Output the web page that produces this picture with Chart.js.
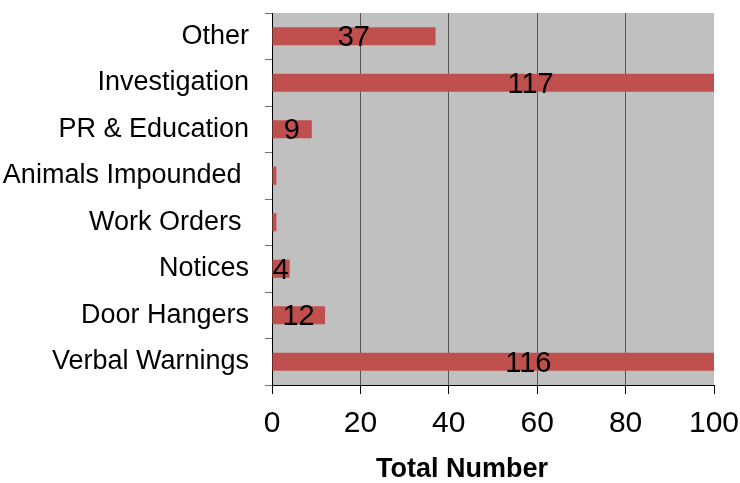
<!DOCTYPE html>
<html>
<head>
<meta charset="utf-8">
<script src="https://cdn.jsdelivr.net/npm/chart.js@4"></script>
<style>
  html, body { margin: 0; padding: 0; background: #fff; overflow: hidden; }
  #wrap { width: 740px; height: 483px; position: relative; }
</style>
</head>
<body>
<div id="wrap"><canvas id="c"></canvas></div>
<script>
// categories, top to bottom (trailing spaces as in the original labels)
const categories = [
    "Other",
    "Investigation",
    "PR & Education",
    "Animals Impounded ",
    "Work Orders ",
    "Notices",
    "Door Hangers",
    "Verbal Warnings"
];
const totals = [37, 117, 9, 1, 1, 4, 12, 116];
const xTicks = [0, 20, 40, 60, 80, 100];
const axisTitle = "Total Number";

const FONT = "'Liberation Sans', Arial, sans-serif";

// grey plot background
const plotBg = {
    id: 'plotBg',
    beforeDraw(chart){
        const a = chart.chartArea, ctx = chart.ctx;
        ctx.save();
        ctx.fillStyle = '#C0C0C0';
        ctx.fillRect(a.left, a.top, a.right - a.left, a.bottom - a.top);
        ctx.restore();
    }
};

// value labels, centred on the full (unclipped) bar
const valueLabels = {
    id: 'valueLabels',
    afterDatasetsDraw(chart){
        const ctx = chart.ctx, xs = chart.scales.x;
        const meta = chart.getDatasetMeta(0);
        ctx.save();
        ctx.font = '29px ' + FONT;
        ctx.fillStyle = '#000';
        ctx.textAlign = 'center';
        ctx.textBaseline = 'middle';
        meta.data.forEach(function(bar, i){
            var v = totals[i];
            if(v < 2) return; // original shows no label on the tiny bars
            ctx.fillText(String(v), xs.getPixelForValue(v / 2), bar.y + 2);
        });
        ctx.restore();
    }
};

// axis title, placed a bit left of centre like the original
const xTitle = {
    id: 'xTitle',
    afterDraw(chart){
        const a = chart.chartArea, ctx = chart.ctx;
        ctx.save();
        ctx.font = 'bold 27px ' + FONT;
        ctx.fillStyle = '#000';
        ctx.textAlign = 'center';
        ctx.textBaseline = 'middle';
        ctx.fillText(axisTitle, a.left + (a.right - a.left) * 0.43, 470);
        ctx.restore();
    }
};

new Chart(document.getElementById('c'), {
    type: 'bar',
    data: {
        labels: categories,
        datasets: [{
            data: totals,
            backgroundColor: '#C0504D',
            borderWidth: 0,
            barPercentage: 0.39,
            categoryPercentage: 1
        }]
    },
    options: {
        indexAxis: 'y',
        responsive: true,
        maintainAspectRatio: false,
        animation: false,
        layout: { padding: { top: 13, left: 0, right: 0, bottom: 29 } },
        plugins: {
            legend: { display: false },
            tooltip: { enabled: false }
        },
        scales: {
            x: {
                min: xTicks[0],
                max: xTicks[xTicks.length - 1],
                afterBuildTicks(scale){
                    scale.ticks = xTicks.map(function(v){ return { value: v }; });
                },
                afterFit(scale){
                    scale.paddingLeft = 0;
                    scale.paddingRight = 26;
                },
                ticks: {
                    color: '#000',
                    padding: 12,
                    font: { family: FONT, size: 30 },
                    maxRotation: 0
                },
                grid: {
                    drawOnChartArea: true,
                    color: function(c){
                        var v = c.tick ? c.tick.value : null;
                        return (v === 0 || v === 100) ? 'rgba(0,0,0,0)' : '#555555';
                    },
                    tickColor: '#000',
                    tickLength: 9,
                    lineWidth: 1
                },
                border: { display: true, color: '#000', width: 1 }
            },
            y: {
                afterFit(scale){
                    // labels sit in the middle of their bands, no extra room needed
                    scale.paddingTop = 0;
                    scale.paddingBottom = 0;
                    scale.width = 272;
                },
                ticks: {
                    color: '#000',
                    padding: 16,
                    font: { family: FONT, size: 27 }
                },
                grid: {
                    drawOnChartArea: false,
                    tickLength: 7,
                    tickColor: '#707070',
                    offset: true
                },
                border: { display: true, color: '#000', width: 1 }
            }
        }
    },
    plugins: [plotBg, valueLabels, xTitle]
});
</script>
</body>
</html>
